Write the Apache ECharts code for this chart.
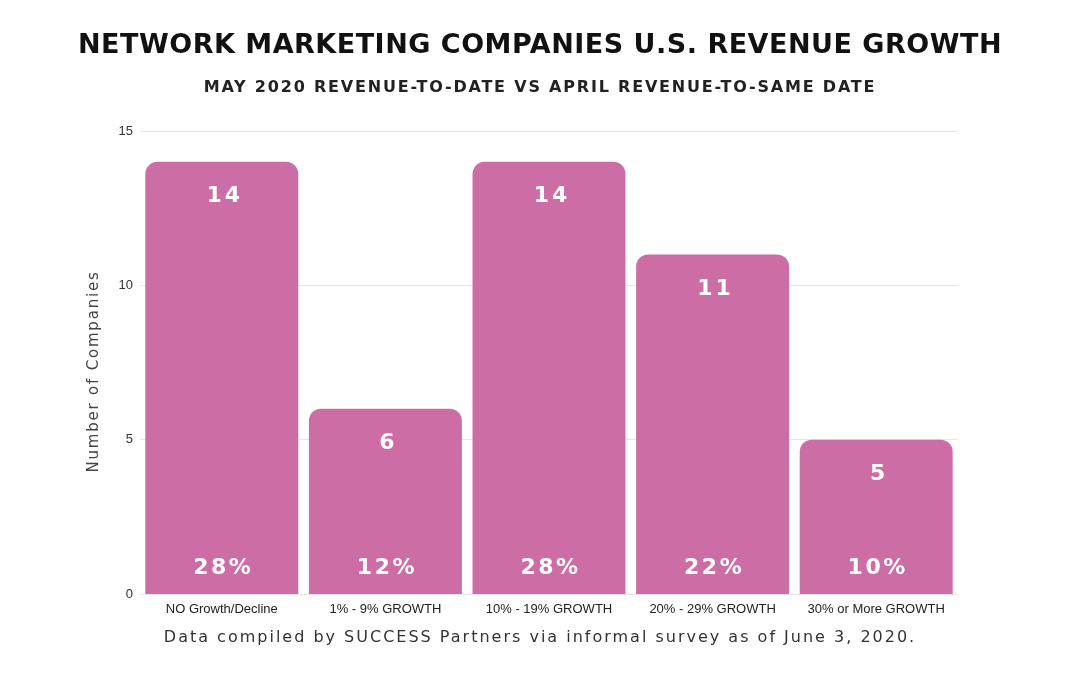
<!DOCTYPE html>
<html>
<head>
<meta charset="utf-8">
<script src="https://cdn.jsdelivr.net/npm/echarts@6/dist/echarts.min.js"></script>
<style>html,body{margin:0;padding:0;background:#fff}#c{width:1080px;height:675px}</style>
</head>
<body>
<div id="c"></div>
<script>
const categories = ['NO Growth/Decline', '1% - 9% GROWTH', '10% - 19% GROWTH', '20% - 29% GROWTH', '30% or More GROWTH'];
const counts = [14, 6, 14, 11, 5];
const shares = ['28%', '12%', '28%', '22%', '10%'];
const yTicks = { min: 0, max: 15, interval: 5 };

// letter spacing support: a marker family "lspNN" (tenths of px) in the font stack
(function () {
  const P = CanvasRenderingContext2D.prototype;
  if (!('letterSpacing' in P)) return;
  const ft = P.fillText, mt = P.measureText;
  function ls(ctx) {
    const m = /lsp(\d+)/.exec(ctx.font);
    ctx.letterSpacing = m ? (parseInt(m[1], 10) / 10) + 'px' : '0px';
  }
  P.fillText = function () { ls(this); return ft.apply(this, arguments); };
  P.measureText = function (t) { ls(this); return mt.call(this, t); };
})();

const barColor = '#CC6DA6';
const chart = echarts.init(document.getElementById('c'), null, { renderer: 'canvas' });
chart.setOption({
  backgroundColor: '#ffffff',
  animation: false,
  title: [
    { text: 'NETWORK MARKETING COMPANIES U.S. REVENUE GROWTH', left: 'center', top: 27,
      textStyle: { fontFamily: 'DejaVu Sans, lsp5', fontWeight: 'bold', fontSize: 27, color: '#111' } },
    { text: 'MAY 2020 REVENUE-TO-DATE VS APRIL REVENUE-TO-SAME DATE', left: 'center', top: 74,
      textStyle: { fontFamily: 'DejaVu Sans, lsp18', fontWeight: 'bold', fontSize: 16, color: '#222' } },
    { text: 'Data compiled by SUCCESS Partners via informal survey as of June 3, 2020.', left: 'center', top: 624,
      textStyle: { fontFamily: 'DejaVu Sans, lsp20', fontWeight: 'normal', fontSize: 16, color: '#333' } }
  ],
  grid: { left: 140, right: 122, top: 131, bottom: 81 },
  xAxis: {
    type: 'category', data: categories,
    axisLine: { show: false }, axisTick: { show: false },
    axisLabel: { color: '#222', fontSize: 13, fontFamily: 'Liberation Sans', margin: 9, interval: 0 }
  },
  yAxis: {
    type: 'value', min: yTicks.min, max: yTicks.max, interval: yTicks.interval,
    name: 'Number of Companies', nameLocation: 'middle', nameGap: 37,
    nameTextStyle: { fontFamily: 'DejaVu Sans, lsp18', fontSize: 15, color: '#444', padding: [0, 18, 0, 0] },
    axisLine: { show: false }, axisTick: { show: false },
    axisLabel: { color: '#333', fontSize: 13, fontFamily: 'Liberation Sans', margin: 7 },
    splitLine: { lineStyle: { color: '#e6e6e6', width: 1 } }
  },
  series: [
    {
      type: 'bar', data: counts, barCategoryGap: '6.5%',
      itemStyle: { color: barColor, borderRadius: [12, 12, 0, 0] },
      label: { show: true, position: 'insideTop', distance: 22, color: '#fff',
        fontFamily: 'DejaVu Sans, lsp30', fontWeight: 'bold', fontSize: 22, padding: [0, 0, 0, 6] }
    },
    {
      type: 'bar', data: counts.map(() => 0), barGap: '-100%', barCategoryGap: '6.5%',
      itemStyle: { color: 'transparent' }, silent: true,
      label: { show: true, position: 'insideBottom', distance: 13, color: '#fff',
        fontFamily: 'DejaVu Sans, lsp25', fontWeight: 'bold', fontSize: 22, padding: [0, 0, 0, 3],
        formatter: p => shares[p.dataIndex] }
    }
  ]
});
</script>
</body>
</html>
